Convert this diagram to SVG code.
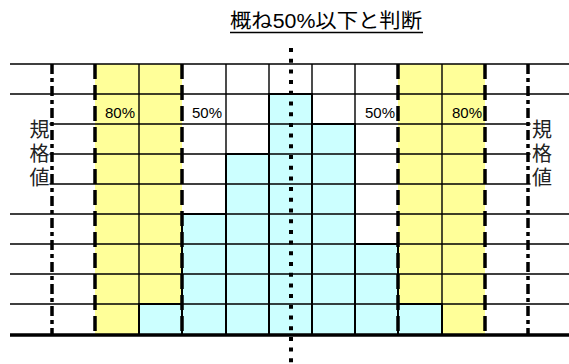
<svg xmlns="http://www.w3.org/2000/svg" width="569" height="364" viewBox="0 0 569 364">
<style>
.grid{stroke:#000;stroke-width:1.4;fill:none}
.bar{fill:#CCFFFF;stroke:#000;stroke-width:2}
.yel{fill:#FFFF99}
.dash{stroke:#000;stroke-width:3.5;stroke-dasharray:15 6;fill:none}
.dashdot{stroke:#000;stroke-width:3.5;stroke-dasharray:10 4 4 4;fill:none}
.dot{stroke:#000;stroke-width:4;stroke-dasharray:4 6.7;fill:none}
.pct{font-family:"Liberation Sans","Noto Sans CJK JP",sans-serif;font-size:15px;fill:#000}
.kikaku{font-family:"Noto Sans CJK JP",sans-serif;font-size:20px;fill:#222;writing-mode:vertical-rl;letter-spacing:4px}
.title{font-family:"Liberation Sans","Noto Sans CJK JP",sans-serif;font-size:20px;fill:#000}
</style>
<rect width="569" height="364" fill="#fff"/>
<g id="bands">
<rect class="yel" x="95" y="64" width="87" height="271"/>
<rect class="yel" x="398" y="64" width="87" height="271"/>
</g>
<g id="bars">
<rect class="bar" x="139" y="304" width="43" height="31"/>
<rect class="bar" x="182" y="214" width="44" height="121"/>
<rect class="bar" x="226" y="154" width="43" height="181"/>
<rect class="bar" x="269" y="94" width="43" height="241"/>
<rect class="bar" x="312" y="124" width="43" height="211"/>
<rect class="bar" x="355" y="244" width="43" height="91"/>
<rect class="bar" x="398" y="304" width="44" height="31"/>
</g>
<g id="grid" class="grid">
<path d="M10 64H569M10 94H569M10 124H569M10 154H569M10 184H569M10 214H569M10 244H569M10 274H569M10 304H569"/>
<path d="M139 64V335M226 64V335M269 64V335M312 64V335M355 64V335M442 64V335"/>
</g>
<g id="bar-edges" fill="none" stroke="#000" stroke-width="2">
<path d="M139 304H182M182 214H226V335M226 154H269V335M269 94H312V335M312 124H355V335M355 244H398M398 304H442V335"/>
</g>
<g id="connectors">
<line class="dashdot" x1="52" y1="64" x2="52" y2="335"/>
<line class="dash" x1="95" y1="64" x2="95" y2="335"/>
<line class="dash" x1="182" y1="64" x2="182" y2="335"/>
<line class="dash" x1="398" y1="64" x2="398" y2="335"/>
<line class="dash" x1="485" y1="64" x2="485" y2="335"/>
<line class="dashdot" x1="528" y1="64" x2="528" y2="335"/>
<line id="baseline" x1="10" y1="335" x2="569" y2="335" stroke="#000" stroke-width="3.5"/>
<line class="dot" x1="291" y1="48" x2="291" y2="364"/>
</g>
<g id="label-left">
<rect x="0" y="98" width="49.5" height="102" fill="#fff"/>
<text class="kikaku" x="39.5" y="119">規格値</text>
</g>
<g id="label-right">
<rect x="530.5" y="98" width="38.5" height="102" fill="#fff"/>
<text class="kikaku" x="542" y="119">規格値</text>
</g>
<g id="pct-labels">
<text class="pct" x="105" y="118">80%</text>
<text class="pct" x="192" y="118">50%</text>
<text class="pct" x="395" y="118" text-anchor="end">50%</text>
<text class="pct" x="482" y="118" text-anchor="end">80%</text>
</g>
<g id="title">
<text class="title" x="230" y="28" textLength="192" lengthAdjust="spacingAndGlyphs">概ね50%以下と判断</text>
<line x1="230" y1="32.5" x2="423" y2="32.5" stroke="#000" stroke-width="1.5"/>
</g>
</svg>
